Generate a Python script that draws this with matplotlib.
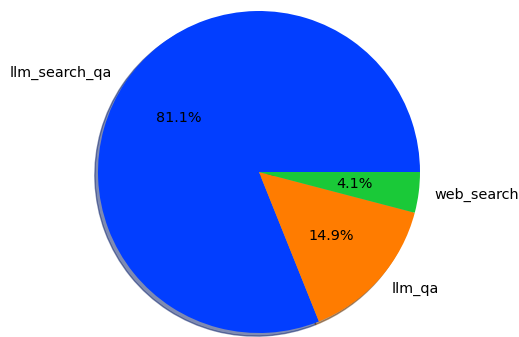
import matplotlib.pyplot as plt
import seaborn as sns

# Data
labels = ['llm_search_qa', 'llm_qa', 'web_search']
values = [81.07, 14.86, 4.07]

colors = sns.color_palette('bright')[:3]

fig = plt.figure(figsize=(5.19, 3.37), dpi=100)
ax = fig.add_axes([0, 0, 1, 1])

ax.pie(values, labels=labels, colors=colors, autopct='%1.1f%%',
       shadow={'ox': -0.014, 'oy': -0.014, 'shade': 0.6},
       textprops={'fontsize': 10.4})

# place pie: center ~ (259, 172) px, radius ~161 px
r = 161.0
ax.set_xlim(-259 / r, (519 - 259) / r)
ax.set_ylim(-(337 - 172) / r, 172 / r)
ax.set_aspect('equal')
ax.axis('off')

plt.savefig('out.png', dpi=100)
